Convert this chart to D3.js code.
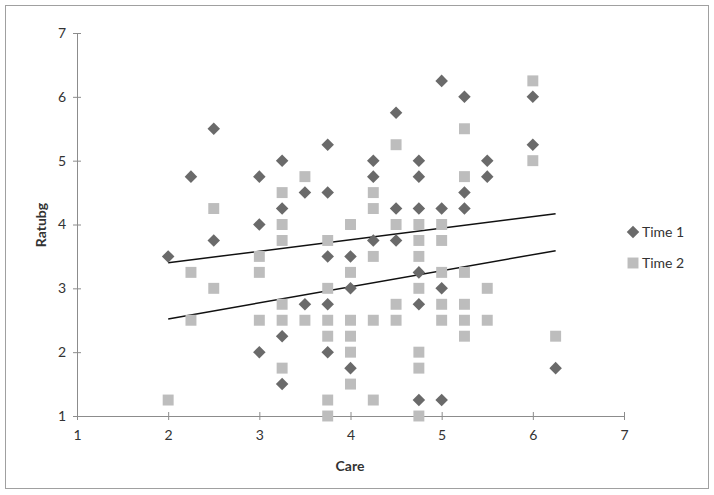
<!DOCTYPE html>
<html>
<head>
<meta charset="utf-8">
<script src="https://d3js.org/d3.v7.min.js"></script>
<style>
  body { margin: 0; background: #fff; }
  text { font-family: Lato, "Open Sans", sans-serif; fill: #333; }
</style>
</head>
<body>
<svg width=714 height=495></svg>

<script>
// Time 1 (diamonds): [care, ratubg]
var time1 = [
  [2, 3.5], [2.25, 4.75], [2.5, 5.5], [2.5, 3.75],
  [3, 4.75], [3, 4], [3, 2],
  [3.25, 5], [3.25, 4.25], [3.25, 2.25], [3.25, 1.5],
  [3.5, 4.5], [3.5, 2.75],
  [3.75, 5.25], [3.75, 4.5], [3.75, 3.5], [3.75, 2.75], [3.75, 2],
  [4, 3.5], [4, 3], [4, 1.75],
  [4.25, 5], [4.25, 4.75], [4.25, 3.75],
  [4.5, 5.75], [4.5, 4.25], [4.5, 3.75],
  [4.75, 5], [4.75, 4.75], [4.75, 4.25], [4.75, 3.25], [4.75, 2.75], [4.75, 1.25],
  [5, 6.25], [5, 4.25], [5, 3], [5, 1.25],
  [5.25, 6], [5.25, 4.5], [5.25, 4.25],
  [5.5, 5], [5.5, 4.75],
  [6, 6], [6, 5.25],
  [6.25, 1.75]
];

// Time 2 (squares)
var time2 = [
  [2, 1.25], [2.25, 3.25], [2.25, 2.5], [2.5, 4.25], [2.5, 3],
  [3, 3.5], [3, 3.25], [3, 2.5],
  [3.25, 4.5], [3.25, 4], [3.25, 3.75], [3.25, 2.75], [3.25, 2.5], [3.25, 1.75],
  [3.5, 4.75], [3.5, 2.5],
  [3.75, 3.75], [3.75, 3], [3.75, 2.5], [3.75, 2.25], [3.75, 1.25], [3.75, 1],
  [4, 4], [4, 3.25], [4, 2.5], [4, 2.25], [4, 2], [4, 1.5],
  [4.25, 4.5], [4.25, 4.25], [4.25, 3.5], [4.25, 2.5], [4.25, 1.25],
  [4.5, 5.25], [4.5, 4], [4.5, 2.75], [4.5, 2.5],
  [4.75, 4], [4.75, 3.75], [4.75, 3.5], [4.75, 3], [4.75, 2], [4.75, 1.75], [4.75, 1],
  [5, 4], [5, 3.75], [5, 3.25], [5, 2.75], [5, 2.5],
  [5.25, 5.5], [5.25, 4.75], [5.25, 3.25], [5.25, 2.75], [5.25, 2.5], [5.25, 2.25],
  [5.5, 3], [5.5, 2.5],
  [6, 6.25], [6, 5],
  [6.25, 2.25]
];

// linear trendlines, end points
var trend1 = [[2, 3.4], [6.25, 4.17]];
var trend2 = [[2, 2.52], [6.25, 3.59]];

var xTicks = [1, 2, 3, 4, 5, 6, 7];
var yTicks = [1, 2, 3, 4, 5, 6, 7];

var svg = d3.select('svg');

// outer frame
svg.append('rect')
  .attr('x', 5.5).attr('y', 5.5)
  .attr('width', 703).attr('height', 483)
  .attr('fill', 'none')
  .attr('stroke', '#a0a0a0')
  .attr('stroke-width', 1);

var x = d3.scaleLinear().domain([1, 7]).range([77, 624]);
var y = d3.scaleLinear().domain([1, 7]).range([416, 33]);

// axes, excel style crossing ticks
var xAxis = svg.append('g')
  .attr('transform', 'translate(0,416)')
  .call(d3.axisBottom(x).tickValues(xTicks).tickFormat(d3.format('d')).tickSize(0).tickPadding(14));
xAxis.selectAll('.tick').append('line')
  .attr('y1', -4).attr('y2', 4);

var yAxis = svg.append('g')
  .attr('transform', 'translate(77,0)')
  .call(d3.axisLeft(y).tickValues(yTicks).tickFormat(d3.format('d')).tickSize(0).tickPadding(11));
yAxis.selectAll('.tick').append('line')
  .attr('x1', -4).attr('x2', 4);

svg.selectAll('.domain, .tick line')
  .attr('stroke', '#8c8c8c')
  .attr('stroke-width', 1);
svg.selectAll('.tick text')
  .attr('font-size', 14)
  .attr('font-family', 'Lato, sans-serif')
  .attr('fill', '#333');

// axis titles
svg.append('text')
  .attr('x', 350).attr('y', 471)
  .attr('text-anchor', 'middle')
  .attr('font-size', 14).attr('font-weight', 'bold')
  .text('Care');

svg.append('text')
  .attr('transform', 'translate(46,225) rotate(-90)')
  .attr('text-anchor', 'middle')
  .attr('font-size', 14).attr('font-weight', 'bold')
  .text('Ratubg');

// trendlines
var line = d3.line().x(d => x(d[0])).y(d => y(d[1]));
svg.selectAll('path.trend')
  .data([trend1, trend2])
  .enter()
  .append('path')
    .attr('class', 'trend')
    .attr('d', line)
    .attr('fill', 'none')
    .attr('stroke', '#111')
    .attr('stroke-width', 1.5);

var diamond = d3.symbol().type(d3.symbolDiamond2).size(100);
var square = d3.symbol().type(d3.symbolSquare).size(120);

svg.append('g')
  .selectAll('path')
  .data(time2)
  .enter()
  .append('path')
    .attr('d', square)
    .attr('transform', d => 'translate(' + x(d[0]) + ',' + y(d[1]) + ')')
    .attr('fill', '#bdbdbd');

svg.append('g')
  .selectAll('path')
  .data(time1)
  .enter()
  .append('path')
    .attr('d', diamond)
    .attr('transform', d => 'translate(' + x(d[0]) + ',' + y(d[1]) + ')')
    .attr('fill', '#6a6a6a');

// legend
var legend = [
  { name: 'Time 1', sym: diamond, color: '#6a6a6a' },
  { name: 'Time 2', sym: square, color: '#bdbdbd' }
];
var lg = svg.selectAll('g.legend')
  .data(legend)
  .enter()
  .append('g')
    .attr('class', 'legend')
    .attr('transform', (d, i) => 'translate(633,' + (232 + i * 31) + ')');
lg.append('path')
  .attr('d', d => d.sym())
  .attr('fill', d => d.color);
lg.append('text')
  .attr('x', 9).attr('y', 5)
  .attr('font-size', 14)
  .text(d => d.name);
</script>
</body>
</html>
